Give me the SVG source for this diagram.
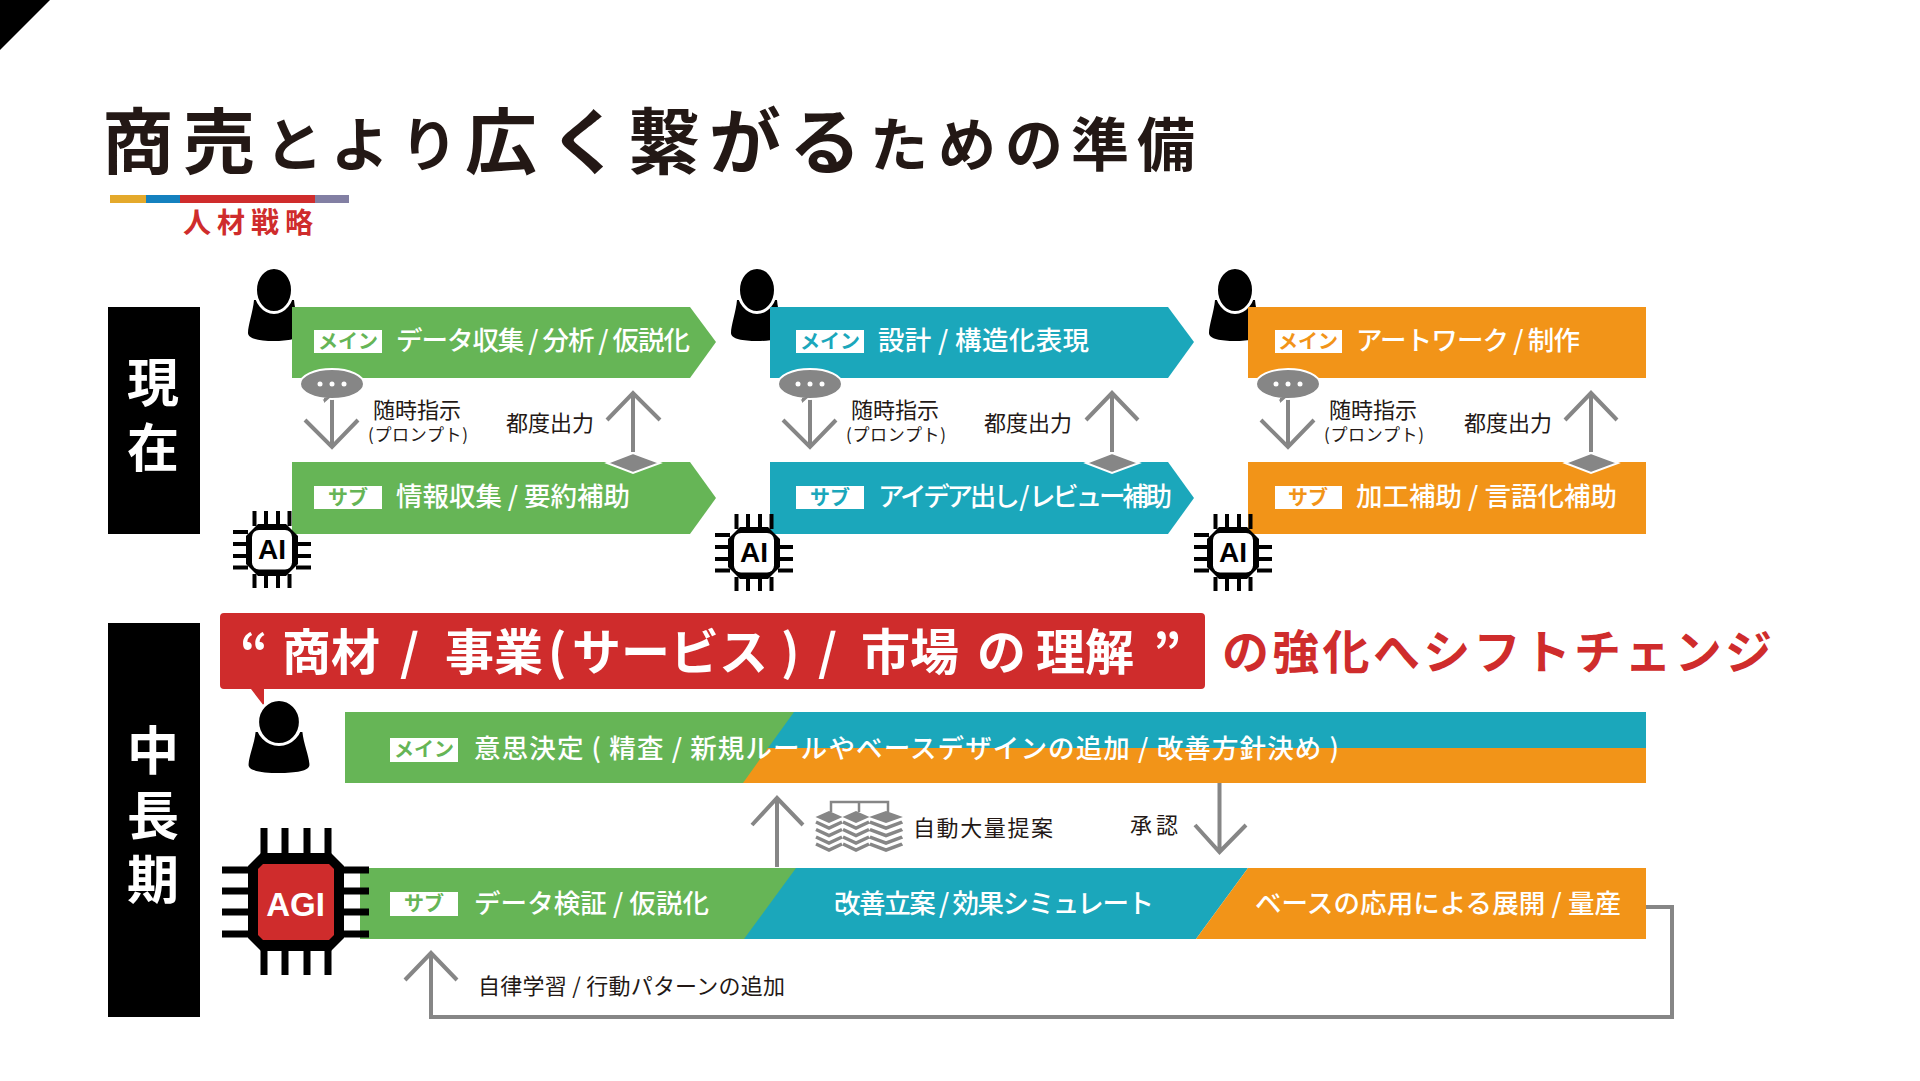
<svg xmlns="http://www.w3.org/2000/svg" width="1920" height="1081" viewBox="0 0 1920 1081">
<style>
text{font-family:"Noto Sans CJK JP","Noto Sans",sans-serif}
.g{fill:#66b556}.t{fill:#1ba7bb}.o{fill:#f29418}.r{fill:#cf2c2c}
.w{fill:#fff;font-weight:500;font-size:26.500px}
.tag{fill:#fff}
.tg{font-size:20px;font-weight:700;text-anchor:middle}
.k{fill:#231815;font-size:22px}
.k2{fill:#231815;font-size:17px}
.side{fill:#fff;font-size:52px;font-weight:700;text-anchor:middle}
.ln{fill:none;stroke:#868686;stroke-width:4}
.ttl{fill:#231815;font-weight:700}
</style>
<defs>
<g id="person">
<path d="M-20 10C-21 22-26 35-26 43C-26 49-14 51 0 51C14 51 26 49 26 43C26 35 21 22 20 10Z" fill="#000"/>
<ellipse cx="0" cy="0" rx="18.500" ry="22.500" fill="#000" stroke="#fff" stroke-width="3"/>
</g>
<path id="ai-body" d="M-14 -26H14L26 -14V14L14 26H-14L-26 14V-14Z" fill="#000"/>
<g id="chip">
<path d="M-17.500 -39V-24M-6 -39V-24M6 -39V-24M17.500 -39V-24M-17.500 24V38M-6 24V38M6 24V38M17.500 24V38M-39 -18H-24M-39 -6H-24M-39 6H-24M-39 17.500H-24M24 -6H39M24 6H39M24 17.500H39" stroke="#000" stroke-width="4" fill="none"/>
<use href="#ai-body"/>
<rect x="-20" y="-20" width="40" height="39.500" rx="7" fill="#fff"/>
<text x="0" y="8.500" text-anchor="middle" font-size="28" font-weight="700" fill="#000" style="font-family:'Liberation Sans',sans-serif">AI</text>
</g>
<g id="bubble">
<path d="M-13 10L-8 20L0 12Z" fill="#868686" stroke="#fff" stroke-width="2"/>
<ellipse cx="0" cy="0" rx="32" ry="15" fill="#868686" stroke="#fff" stroke-width="2"/>
<path d="M-8 14L-8 19L0 12Z" fill="#868686"/>
<circle cx="-12" cy="0" r="2.500" fill="#fff"/><circle cx="0" cy="0" r="2.500" fill="#fff"/><circle cx="12" cy="0" r="2.500" fill="#fff"/>
</g>
<g id="stack">
<polygon points="-13.500,0 0,-6 13.500,0 0,6" fill="#868686"/>
<path d="M-13 5L0 11L13 5M-13 12.500L0 18.500L13 12.500M-13 20L0 26L13 20M-13 27L0 33L13 27" fill="none" stroke="#868686" stroke-width="3.500"/>
</g>
</defs>
<rect width="1920" height="1081" fill="#fff"/>
<polygon points="0,0 50,0 0,50" fill="#000"/>

<g id="title">
<text class="ttl" y="168" font-size="72" x="102 183">商売</text>
<text class="ttl" y="166" font-size="58" x="265 331 400">とより</text>
<text class="ttl" y="168" font-size="72" x="465 549 628 709 789">広く繋がる</text>
<text class="ttl" y="166" font-size="58" x="870 938 1005 1071 1137">ための準備</text>
<rect x="110" y="195" width="36" height="8" fill="#e4a92b"/>
<rect x="146" y="195" width="34" height="8" fill="#1481bf"/>
<rect x="180" y="195" width="135" height="8" fill="#cf2c2c"/>
<rect x="315" y="195" width="34" height="8" fill="#827fa3"/>
<text x="183" y="233" font-size="28" font-weight="700" class="r" textLength="130">人材戦略</text>
</g>

<g id="label-now"><rect x="108" y="307" width="92" height="227" fill="#000"/>
<text class="side" x="153" y="402">現</text><text class="side" x="153" y="467">在</text></g>

<g id="person-1"><use href="#person" x="274" y="290"/></g>
<g id="person-2"><use href="#person" x="757" y="290"/></g>
<g id="person-3"><use href="#person" x="1235" y="290"/></g>

<g id="main-1"><polygon class="g" points="292,307 690,307 716,342 690,378 292,378"/>
<rect class="tag" x="314" y="330" width="68" height="23"/><text class="tg g" x="348" y="349">メイン</text>
<text class="w" x="396" y="350" textLength="294">データ収集 / 分析 / 仮説化</text></g>
<g id="sub-1"><polygon class="g" points="292,462 690,462 716,498 690,534 292,534"/>
<rect class="tag" x="314" y="486" width="68" height="23"/><text class="tg g" x="348" y="505">サブ</text>
<text class="w" x="396" y="506" textLength="234">情報収集 / 要約補助</text></g>

<g id="main-2"><polygon class="t" points="770,307 1168,307 1194,342 1168,378 770,378"/>
<rect class="tag" x="796" y="330" width="68" height="23"/><text class="tg t" x="830" y="349">メイン</text>
<text class="w" x="878" y="350" textLength="211">設計 / 構造化表現</text></g>
<g id="sub-2"><polygon class="t" points="770,462 1168,462 1194,498 1168,534 770,534"/>
<rect class="tag" x="796" y="486" width="68" height="23"/><text class="tg t" x="830" y="505">サブ</text>
<text class="w" x="878" y="506" textLength="294">アイデア出し / レビュー補助</text></g>

<g id="main-3"><rect class="o" x="1248" y="307" width="398" height="71"/>
<rect class="tag" x="1275" y="330" width="67" height="23"/><text class="tg o" x="1308" y="349">メイン</text>
<text class="w" x="1356" y="350" textLength="224">アートワーク / 制作</text></g>
<g id="sub-3"><rect class="o" x="1248" y="462" width="398" height="72"/>
<rect class="tag" x="1275" y="486" width="67" height="23"/><text class="tg o" x="1308" y="505">サブ</text>
<text class="w" x="1356" y="506" textLength="261">加工補助 / 言語化補助</text></g>

<g id="connectors-now">
<path class="ln" d="M332 398V446M305 420L332 447L358 420"/>
<path class="ln" d="M633 452V394M607 420L633 393L660 420"/>
<path class="ln" d="M810 398V446M783 420L810 447L836 420"/>
<path class="ln" d="M1112 452V394M1086 420L1112 393L1138 420"/>
<path class="ln" d="M1288 398V446M1261 420L1288 447L1314 420"/>
<path class="ln" d="M1591 452V394M1565 420L1591 393L1617 420"/>
<polygon points="607,463 633,453 660,463 633,473" fill="#868686" stroke="#fff" stroke-width="2"/>
<polygon points="1086,463 1112,453 1139,463 1112,473" fill="#868686" stroke="#fff" stroke-width="2"/>
<polygon points="1565,463 1591,453 1618,463 1591,473" fill="#868686" stroke="#fff" stroke-width="2"/>
<use href="#bubble" x="332" y="384"/><use href="#bubble" x="810" y="384"/><use href="#bubble" x="1288" y="384"/>
</g>
<g id="labels-now">
<text class="k" x="373" y="418" textLength="88">随時指示</text><text class="k2" x="368" y="441" textLength="100">(プロンプト)</text><text class="k" x="506" y="431" textLength="88">都度出力</text>
<text class="k" x="851" y="418" textLength="88">随時指示</text><text class="k2" x="846" y="441" textLength="100">(プロンプト)</text><text class="k" x="984" y="431" textLength="88">都度出力</text>
<text class="k" x="1329" y="418" textLength="88">随時指示</text><text class="k2" x="1324" y="441" textLength="100">(プロンプト)</text><text class="k" x="1464" y="431" textLength="88">都度出力</text>
</g>
<g id="ai-1"><use href="#chip" x="272" y="550"/></g>
<g id="ai-2"><use href="#chip" x="754" y="553"/></g>
<g id="ai-3"><use href="#chip" x="1233" y="553"/></g>

<g id="label-future"><rect x="108" y="623" width="92" height="394" fill="#000"/>
<text class="side" x="153" y="770">中</text><text class="side" x="153" y="835">長</text><text class="side" x="153" y="899">期</text></g>

<g id="banner"><path class="r" d="M224 613H1201a4 4 0 0 1 4 4V685a4 4 0 0 1 -4 4H264V706L251 689H224a4 4 0 0 1 -4 -4V617a4 4 0 0 1 4 -4Z"/>
<text y="670" fill="#fff" font-size="49" font-weight="700"><tspan x="240">“</tspan><tspan x="282">商材</tspan><tspan x="400">/</tspan><tspan x="445">事業</tspan><tspan x="548">(</tspan><tspan x="572">サービス</tspan><tspan x="781">)</tspan><tspan x="818">/</tspan><tspan x="861">市場</tspan><tspan x="977">の</tspan><tspan x="1036">理解</tspan><tspan x="1153">”</tspan></text>
<text x="1222" y="669" class="r" font-size="47" font-weight="700" textLength="550">の強化へシフトチェンジ</text></g>

<g id="person-main"><use href="#person" transform="translate(279 722) scale(1.170 1.000)"/></g>

<g id="main-bar"><rect class="g" x="345" y="712" width="1301" height="71"/>
<polygon class="t" points="794,712 1646,712 1646,748 768,748"/>
<polygon class="o" points="768,748 1646,748 1646,783 743,783"/>
<rect class="tag" x="390" y="738" width="68" height="24"/><text class="tg g" x="424" y="757">メイン</text>
<text class="w" x="474" y="758" textLength="865">意思決定 ( 精査 / 新規ルールやベースデザインの追加 / 改善方針決め )</text></g>

<g id="sub-bar"><rect class="g" x="360" y="868" width="440" height="71"/>
<polygon class="t" points="796,868 1248,868 1196,939 744,939"/>
<polygon class="o" points="1248,868 1646,868 1646,939 1196,939"/>
<rect class="tag" x="390" y="892" width="68" height="24"/><text class="tg g" x="424" y="911">サブ</text>
<text class="w" x="474" y="913" textLength="235">データ検証 / 仮説化</text>
<text class="w" x="834" y="913" textLength="320">改善立案 / 効果シミュレート</text>
<text class="w" x="1255" y="913" textLength="366">ベースの応用による展開 / 量産</text></g>

<g id="agi">
<path d="M264 828V856M285 828V856M307 828V856M328 828V856M264 948V975M285 948V975M307 948V975M328 948V975M222 870H250M222 891H250M222 912H250M222 934H250M342 870H369M342 891H369M342 912H369M342 934H369" stroke="#000" stroke-width="7" fill="none"/>
<polygon points="261,853 331,853 344,866 344,938 331,951 261,951 248,938 248,866" fill="#000"/>
<polygon points="263,864 329,864 334,869 334,935 329,940 263,940 258,935 258,869" class="r"/>
<text x="295.500" y="916" text-anchor="middle" font-size="33" font-weight="700" fill="#fff" style="font-family:'Liberation Sans',sans-serif">AGI</text>
</g>

<g id="connectors-future">
<path class="ln" d="M777 867V799M752 825L777 798L803 825"/>
<path class="ln" d="M1219.500 783V851M1195 825L1219.500 852L1246 825"/>
<path class="ln" d="M1646 907H1672V1017H431V955M405 980L431 953L457 980"/>
<path d="M831 812V802H888V812M859 802V812" fill="none" stroke="#868686" stroke-width="2.500"/>
<use href="#stack" x="829" y="817"/><use href="#stack" x="856" y="817"/><use href="#stack" transform="translate(886 817) scale(1.250 1)"/>
</g>
<g id="labels-future">
<text class="k" x="913" y="836" textLength="140">自動大量提案</text>
<text class="k" x="1130" y="833" textLength="48">承認</text>
<text class="k" x="478" y="994" textLength="307">自律学習 / 行動パターンの追加</text>
</g>
</svg>
